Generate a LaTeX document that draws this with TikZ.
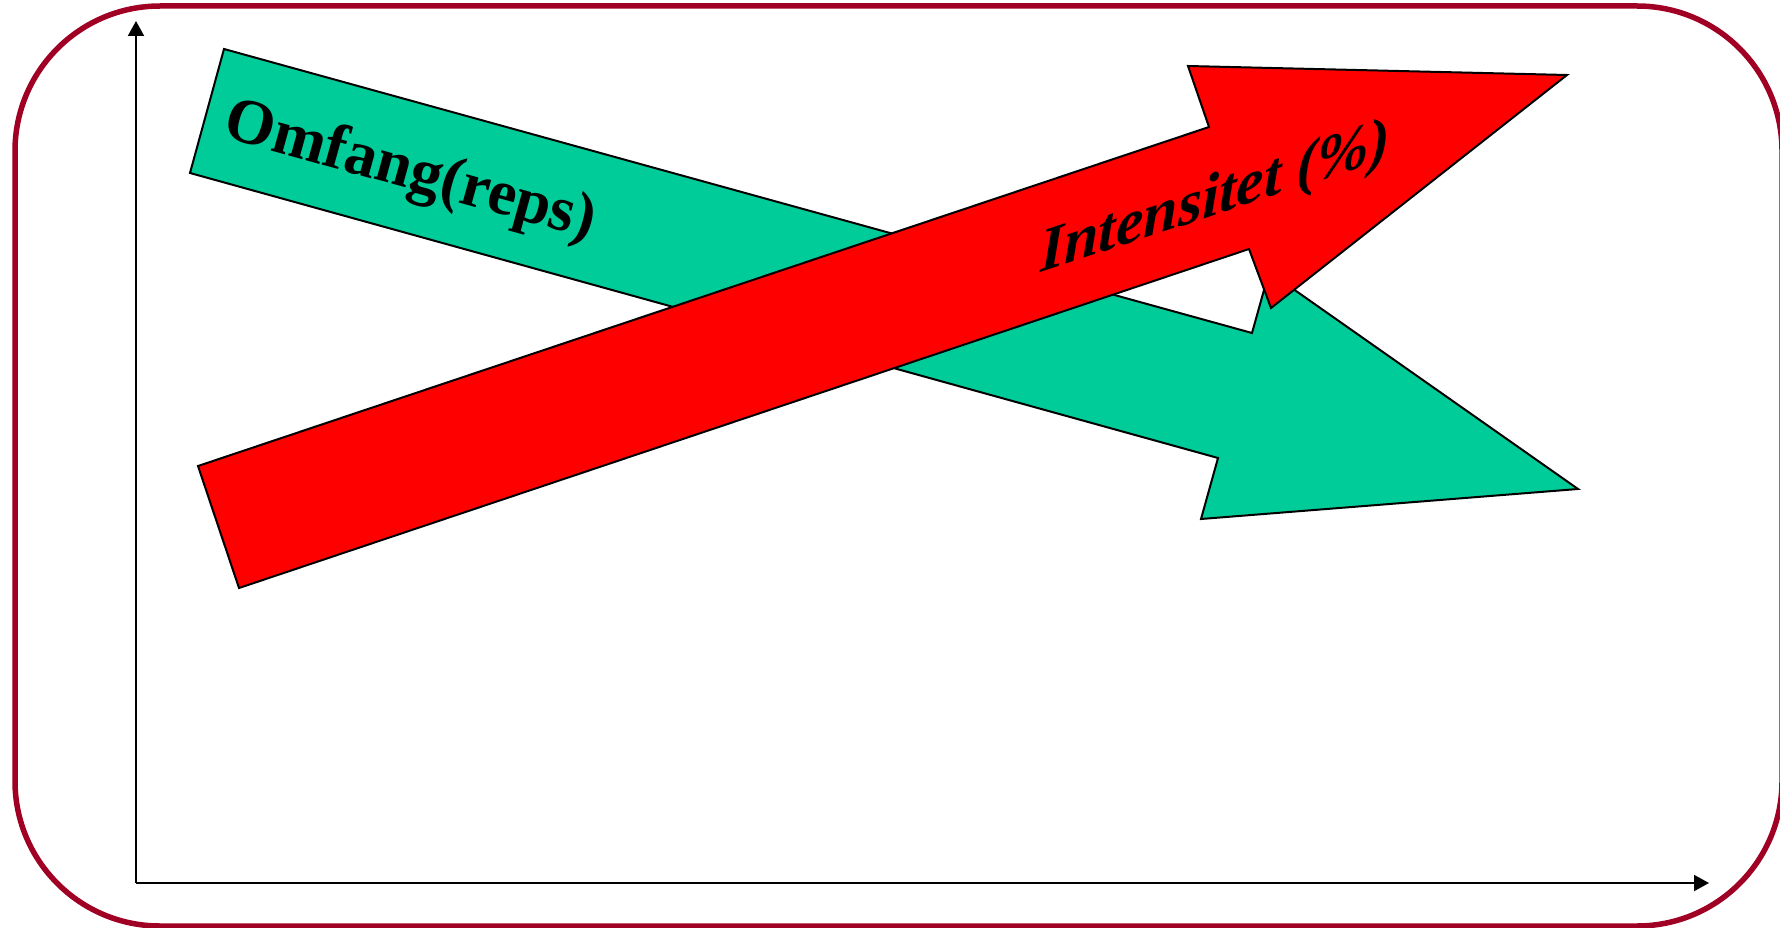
\documentclass[tikz,border=0pt]{standalone}
\usepackage{fontspec}
\setmainfont{Liberation Serif}
\usetikzlibrary{arrows.meta}
\definecolor{frame}{RGB}{160,0,36}
\definecolor{teal}{RGB}{0,204,153}
\definecolor{redfill}{RGB}{255,0,0}
\tikzset{
  bigarrow/.style={draw=black, line width=2pt, line join=miter},
  axis/.style={draw=black, line width=2pt, -{Triangle[length=15pt,width=16pt]}},
  label/.style={inner sep=0pt, text=black}
}
\begin{document}
\begin{tikzpicture}[x=1pt,y=-1pt]
\useasboundingbox (0,0) rectangle (1780,928);
% frame
\draw[frame, line width=5.5pt, rounded corners=145pt] (15,6) rectangle (1782,926);
% axes
\coordinate (origin) at (136,883);
\coordinate (ytip) at (136,21);
\coordinate (xtip) at (1709,883);
\draw[axis] (origin) -- (ytip);
\draw[axis] (origin) -- (xtip);
% green arrow (Omfang)
\fill[teal, bigarrow] (224,49) -- (1252,333) -- (1269,272) -- (1578,489) -- (1201,519) -- (1218,458) -- (190,173) -- cycle;
% red arrow (Intensitet)
\fill[redfill, bigarrow] (198,466) -- (1209,127) -- (1188,66) -- (1567,75) -- (1271,308) -- (1249,249) -- (239,588) -- cycle;
% labels
\node[label, rotate=-15.5] (omfang) at (410,173) {\fontsize{64}{70}\selectfont\bfseries Omfang(reps)};
\node[label, yslant=0.33] (intens) at (1215,200) {\fontsize{62}{70}\selectfont\bfseries\itshape Intensitet (\%)};
\end{tikzpicture}
\end{document}
